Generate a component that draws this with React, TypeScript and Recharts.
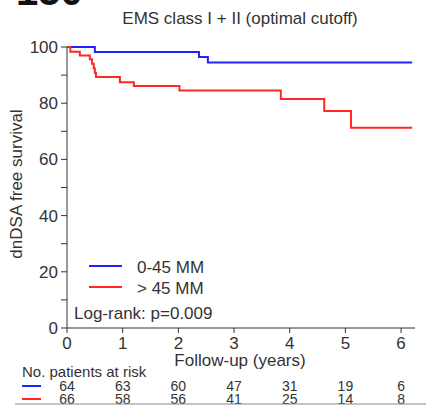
import { LineChart, Line, XAxis, YAxis } from 'recharts'

// follow-up years shown on the x axis
const years = [0, 1, 2, 3, 4, 5, 6]
const survivalTicks = [0, 10, 20, 30, 40, 50, 60, 70, 80, 90, 100]

// numbers at risk under each year
const atRiskLow = [64, 63, 60, 47, 31, 19, 6]
const atRiskHigh = [66, 58, 56, 41, 25, 14, 8]

// Kaplan-Meier steps, 0-45 MM
const lowTime = [0, 0.5, 2.37, 2.53, 6.2]
const lowSurv = [100, 98.2, 96.4, 94.5, 94.5]

// Kaplan-Meier steps, > 45 MM
const highTime = [0, 0.06, 0.23, 0.41, 0.45, 0.48, 0.5, 0.52, 0.95, 1.2, 2.02, 3.84, 4.62, 5.1, 6.2]
const highSurv = [100, 98.3, 97.0, 95.6, 94.0, 92.4, 90.8, 89.3, 87.5, 86.1, 84.5, 81.5, 77.2, 71.3, 71.3]

const lowData = lowTime.map((t, i) => ({ t, s: lowSurv[i] }))
const highData = highTime.map((t, i) => ({ t, s: highSurv[i] }))

const BLUE = '#2222ff'
const RED = '#ff2626'
const INK = '#333'
const FONT = 'Liberation Sans, Arial, sans-serif'

// year label plus the two at-risk counts stacked under it
function YearTick({ x, y, payload, index }: any) {
  return (
    <g fontFamily={FONT} textAnchor="middle">
      <text x={x} y={y + 13} fontSize={17} fill={INK}>{payload.value}</text>
      <text x={x} y={y + 55} fontSize={14} fill={INK}>{atRiskLow[index]}</text>
      <text x={x} y={y + 68} fontSize={14} fill={INK}>{atRiskHigh[index]}</text>
    </g>
  )
}

// only every other tick gets a number
function SurvTick({ x, y, payload }: any) {
  if (payload.value % 20 !== 0) return <g />
  return (
    <text x={x} y={y + 6} fontSize={17} fill={INK} textAnchor="end" fontFamily={FONT}>
      {payload.value}
    </text>
  )
}

export default function App() {
  return (
    <div style={{ position: 'absolute', left: 0, top: 0, width: 426, height: 406, background: '#fff', overflow: 'hidden' }}>
      <LineChart
        width={426}
        height={406}
        margin={{ top: 47, right: 11, bottom: 48, left: 27 }}
      >
        <XAxis
          type="number"
          dataKey="t"
          domain={[0, 6.25]}
          ticks={years}
          allowDataOverflow
          height={30}
          tickSize={5}
          tickMargin={3}
          stroke={INK}
          tick={<YearTick />}
        />
        <YAxis
          type="number"
          domain={[0, 100]}
          ticks={survivalTicks}
          width={40}
          tickSize={6}
          tickMargin={3}
          stroke={INK}
          tick={<SurvTick />}
        />
        <Line data={lowData} dataKey="s" type="stepAfter" stroke={BLUE} strokeWidth={2} dot={false} isAnimationActive={false} />
        <Line data={highData} dataKey="s" type="stepAfter" stroke={RED} strokeWidth={2} dot={false} isAnimationActive={false} />
      </LineChart>

      <svg width={426} height={406} style={{ position: 'absolute', left: 0, top: 0, pointerEvents: 'none' }} fontFamily={FONT}>
        <text x={16} y={5} fontSize={40} fontWeight="bold" fill="#111">150</text>
        <text x={240} y={24} fontSize={17} fill={INK} textAnchor="middle">EMS class I + II (optimal cutoff)</text>
        <text transform="translate(22,184) rotate(-90)" fontSize={17} fill={INK} textAnchor="middle">dnDSA free survival</text>

        <line x1={89} x2={122} y1={266} y2={266} stroke={BLUE} strokeWidth={2} />
        <text x={137} y={273} fontSize={17} fill={INK}>0-45 MM</text>
        <line x1={89} x2={122} y1={287} y2={287} stroke={RED} strokeWidth={2} />
        <text x={137} y={294} fontSize={17} fill={INK}>&gt; 45 MM</text>
        <text x={74} y={319} fontSize={17} fill={INK}>Log-rank: p=0.009</text>

        <text x={240} y={366} fontSize={17} fill={INK} textAnchor="middle">Follow-up (years)</text>
        <text x={22} y={377} fontSize={15} fill={INK}>No. patients at risk</text>
        <line x1={22} x2={41} y1={386} y2={386} stroke={BLUE} strokeWidth={2} />
        <line x1={22} x2={41} y1={399} y2={399} stroke={RED} strokeWidth={2} />
        <line x1={15} x2={426} y1={404} y2={404} stroke="#888" strokeWidth={1} />
      </svg>
    </div>
  )
}
